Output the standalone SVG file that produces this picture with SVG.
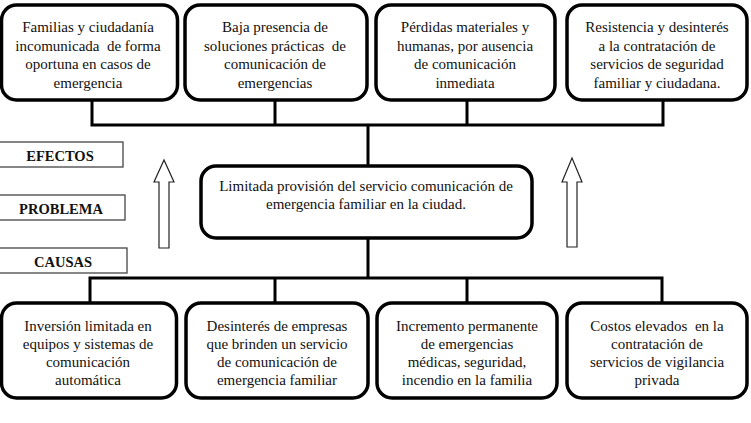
<svg xmlns="http://www.w3.org/2000/svg" width="751" height="423" viewBox="0 0 751 423">
<style>
.box{fill:#fff;stroke:#000;stroke-width:3.5}
.lbl{fill:#fff;stroke:#444;stroke-width:1.3}
.t{font-family:"Liberation Serif","Times New Roman",serif;font-size:15px;fill:#111;text-anchor:middle;white-space:pre}
.b{font-family:"Liberation Serif","Times New Roman",serif;font-size:14.5px;font-weight:bold;fill:#111;text-anchor:middle}
.c{fill:none;stroke:#000;stroke-width:3}
.arr{fill:#fff;stroke:#222;stroke-width:1.2}
</style>
<rect width="751" height="423" fill="#fff"/>
<g id="connectors">
<path class="c" d="M92 100V125H663V100M275 100V125M467 100V125M368 125V166"/>
<path class="c" d="M368 238V278M90 303V278H662V303M275 278V303M467 278V303"/>
</g>
<g id="e1"><rect class="box" x="1.5" y="5" width="176" height="95" rx="15"/>
<text class="t" x="88" y="32">Familias y ciudadanía</text><text class="t" x="88" y="50.5">incomunicada  de forma</text><text class="t" x="88" y="69">oportuna en casos de</text><text class="t" x="88" y="87.5">emergencia</text></g>
<g id="e2"><rect class="box" x="185" y="5" width="182" height="95" rx="15"/>
<text class="t" x="275" y="32">Baja presencia de</text><text class="t" x="275" y="50.5">soluciones prácticas  de</text><text class="t" x="275" y="69">comunicación de</text><text class="t" x="275" y="87.5">emergencias</text></g>
<g id="e3"><rect class="box" x="376" y="5" width="179" height="95" rx="15"/>
<text class="t" x="465" y="32">Pérdidas materiales y</text><text class="t" x="465" y="50.5">humanas, por ausencia</text><text class="t" x="465" y="69">de comunicación</text><text class="t" x="465" y="87.5">inmediata</text></g>
<g id="e4"><rect class="box" x="567" y="5" width="180" height="95" rx="15"/>
<text class="t" x="657" y="32">Resistencia y desinterés</text><text class="t" x="657" y="50.5">a la contratación de</text><text class="t" x="657" y="69">servicios de seguridad</text><text class="t" x="657" y="87.5">familiar y ciudadana.</text></g>
<g id="problema"><rect class="box" x="201" y="166" width="331" height="72" rx="15"/>
<text class="t" x="366" y="191">Limitada provisión del servicio comunicación de</text><text class="t" x="366" y="209">emergencia familiar en la ciudad.</text></g>
<g id="c1"><rect class="box" x="1.5" y="303" width="175" height="95" rx="15"/>
<text class="t" x="88" y="331">Inversión limitada en</text><text class="t" x="88" y="349">equipos y sistemas de</text><text class="t" x="88" y="367">comunicación</text><text class="t" x="88" y="385">automática</text></g>
<g id="c2"><rect class="box" x="186" y="303" width="182" height="95" rx="15"/>
<text class="t" x="277" y="331">Desinterés de empresas</text><text class="t" x="277" y="349">que brinden un servicio</text><text class="t" x="277" y="367">de comunicación de</text><text class="t" x="277" y="385">emergencia familiar</text></g>
<g id="c3"><rect class="box" x="377" y="303" width="180" height="95" rx="15"/>
<text class="t" x="467" y="331">Incremento permanente</text><text class="t" x="467" y="349">de emergencias</text><text class="t" x="467" y="367">médicas, seguridad,</text><text class="t" x="467" y="385">incendio en la familia</text></g>
<g id="c4"><rect class="box" x="567" y="303" width="180" height="95" rx="15"/>
<text class="t" x="657" y="331">Costos elevados  en la</text><text class="t" x="657" y="349">contratación de</text><text class="t" x="657" y="367">servicios de vigilancia</text><text class="t" x="657" y="385">privada</text></g>
<g id="efectos"><rect class="lbl" x="-1" y="142" width="124" height="25"/><text class="b" x="60" y="161">EFECTOS</text></g>
<g id="problema-lbl"><rect class="lbl" x="-1" y="195" width="126" height="25"/><text class="b" x="61" y="214">PROBLEMA</text></g>
<g id="causas"><rect class="lbl" x="-1" y="248" width="128" height="25"/><text class="b" x="63" y="267">CAUSAS</text></g>
<g id="arrow-left"><path class="arr" d="M159 248V182H154L164 160L174 182H169V248Z"/></g>
<g id="arrow-right"><path class="arr" d="M567 247V182H562L572 158L582 182H577V247Z"/></g>
</svg>
